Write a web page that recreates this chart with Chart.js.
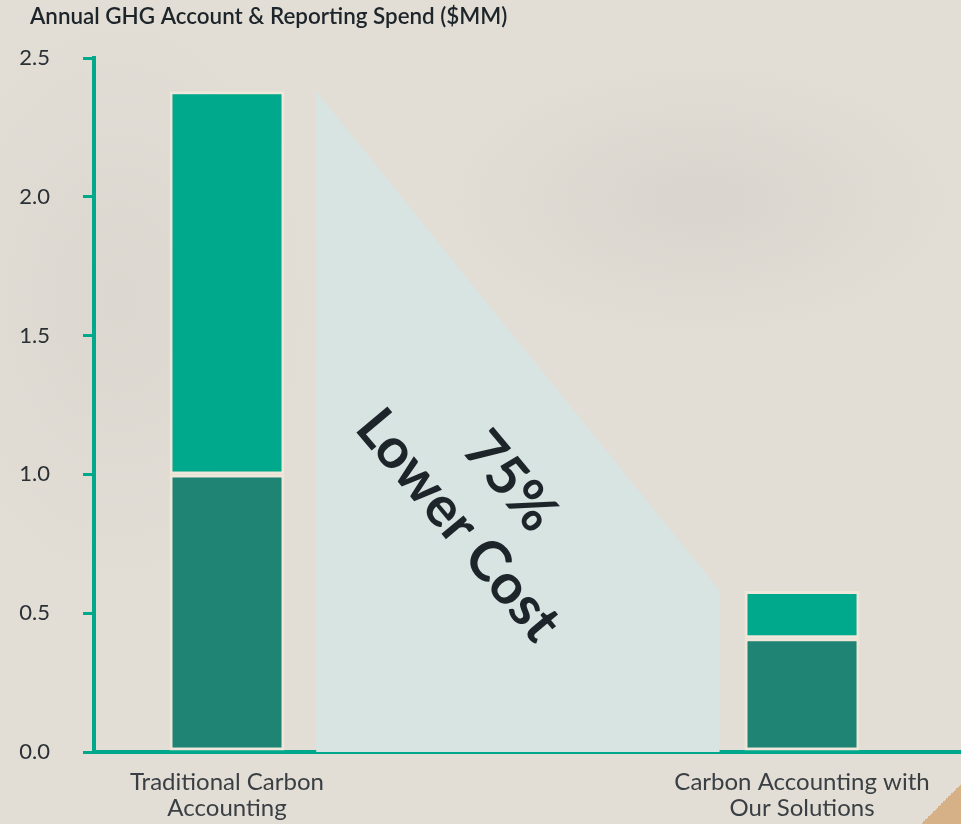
<!DOCTYPE html>
<html>
<head>
<meta charset="utf-8">
<script src="https://cdn.jsdelivr.net/npm/chart.js@4.4.1/dist/chart.umd.min.js"></script>
<style>
  html, body { margin: 0; padding: 0; width: 961px; height: 824px; overflow: hidden; background: #e2ddd5; }
  #wrap { position: relative; width: 961px; height: 824px;
    background:
      radial-gradient(ellipse 260px 140px at 700px 200px, rgba(190,185,178,0.25), rgba(0,0,0,0)),
      radial-gradient(ellipse 200px 300px at 120px 300px, rgba(200,195,188,0.25), rgba(0,0,0,0)),
      #e2ddd5; }
  #corner { position: absolute; right: 0; bottom: 0; width: 40px; height: 40px;
    background: linear-gradient(135deg, rgba(0,0,0,0) 50%, #d6b086 50%); }
  canvas { position: absolute; left: 0; top: 0; }
</style>
</head>
<body>
<div id="wrap">
  <div id="corner"></div>
  <canvas id="chart" width="961" height="824"></canvas>
</div>
<script>
// ---- Data ----
const chartTitle = "Annual GHG Account & Reporting Spend ($MM)";
const categories = ["Traditional Carbon Accounting", "Carbon Accounting with Our Solutions"];
const categoryLines = [["Traditional Carbon", "Accounting"], ["Carbon Accounting with", "Our Solutions"]];
const categoryPositions = [0, 1];
const baseSpend = [1.0, 0.41];
const addedSpend = [1.38, 0.17];
const yTicks = [0.0, 0.5, 1.0, 1.5, 2.0, 2.5];
const calloutLines = ["75%", "Lower Cost"];

// ---- Styles / layout ----
const TEAL = "#00a98b";
const DARK_TEAL = "#208474";
const CREAM = "#efe7da";
const WEDGE = "#d8e4e2";
const TEXT_DARK = "#1d252b";
const GAP_LEFT = 0.155, GAP_RIGHT = 0.143;
const CALLOUT_X = 0.447, CALLOUT_Y = 0.895, CALLOUT_ANGLE = 50;

const totals = baseSpend.map((v, i) => v + addedSpend[i]);
const toPoints = arr => arr.map((v, i) => ({ x: categoryPositions[i], y: v }));

const annotate = {
  id: "annotate",
  afterDatasetsDraw(chart) {
    const { ctx, scales: { x, y } } = chart;
    ctx.save();
    ctx.translate(x.getPixelForValue(CALLOUT_X), y.getPixelForValue(CALLOUT_Y));
    ctx.rotate(CALLOUT_ANGLE * Math.PI / 180);
    ctx.font = "bold 56px Lato";
    ctx.fillStyle = TEXT_DARK;
    ctx.textAlign = "center";
    ctx.textBaseline = "middle";
    ctx.fillText(calloutLines[0], 0, -34);
    ctx.fillText(calloutLines[1], 0, 34);
    ctx.restore();
    ctx.save();
    ctx.font = "600 22.4px Lato";
    ctx.fillStyle = TEXT_DARK;
    ctx.textAlign = "left";
    ctx.textBaseline = "middle";
    ctx.fillText(chartTitle, 30, 17);
    ctx.restore();
  }
};

new Chart(document.getElementById("chart"), {
  type: "bar",
  data: {
    datasets: [
      {
        type: "line",
        label: "Savings",
        data: [
          { x: categoryPositions[0] + GAP_LEFT, y: totals[0] },
          { x: categoryPositions[1] - GAP_RIGHT, y: totals[1] }
        ],
        fill: "origin",
        backgroundColor: WEDGE,
        borderWidth: 0,
        pointRadius: 0,
        tension: 0,
        order: 5
      },
      {
        label: "Base spend",
        data: toPoints(baseSpend),
        backgroundColor: DARK_TEAL,
        borderColor: CREAM,
        borderWidth: 3,
        borderSkipped: false,
        barPercentage: 0.2,
        categoryPercentage: 1,
        order: 1
      },
      {
        label: "Additional spend",
        data: toPoints(addedSpend),
        backgroundColor: TEAL,
        borderColor: CREAM,
        borderWidth: 3,
        borderSkipped: false,
        barPercentage: 0.2,
        categoryPercentage: 1,
        order: 1
      }
    ]
  },
  options: {
    responsive: false,
    animation: false,
    devicePixelRatio: 1,
    layout: { padding: { top: 58, left: 0, right: 0, bottom: 0 } },
    plugins: { legend: { display: false }, tooltip: { enabled: false }, title: { display: false } },
    scales: {
      x: {
        type: "linear",
        min: -0.2313,
        max: 1.2765,
        offset: false,
        stacked: true,
        afterBuildTicks: axis => { axis.ticks = categoryPositions.map(v => ({ value: v })); },
        afterFit: axis => { axis.height = 72; },
        grid: { display: false, drawTicks: false },
        border: { display: true, color: TEAL, width: 4 },
        ticks: {
          autoSkip: false,
          maxRotation: 0,
          padding: 17,
          color: "#3a3f44",
          font: { family: "Lato", size: 24, lineHeight: 1.08 },
          callback: v => categoryLines[categoryPositions.indexOf(v)]
        }
      },
      y: {
        min: 0,
        max: 2.5,
        stacked: true,
        afterBuildTicks: axis => { axis.ticks = yTicks.map(v => ({ value: v })); },
        afterFit: axis => { axis.width = 94; },
        grid: { drawOnChartArea: false, drawTicks: true, tickLength: 11, color: TEAL, lineWidth: 3 },
        border: { display: true, color: TEAL, width: 4 },
        ticks: {
          padding: 33,
          color: "#2b3035",
          font: { family: "Lato", size: 22 },
          callback: v => Number(v).toFixed(1)
        }
      }
    }
  },
  plugins: [annotate]
});
</script>
</body>
</html>
